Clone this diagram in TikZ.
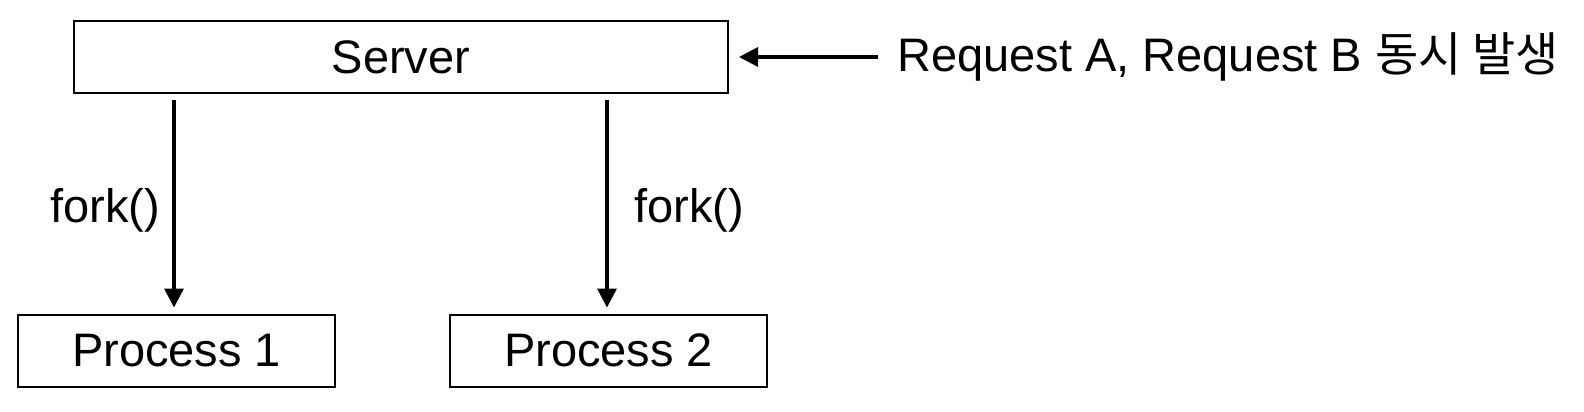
\documentclass[tikz,border=0pt]{standalone}
\usepackage{fontspec}
\setmainfont{Liberation Sans}
\newfontfamily\kofont{Noto Sans CJK KR}
\usetikzlibrary{arrows.meta}
\begin{document}
\begin{tikzpicture}[x=1pt,y=-1pt,
  box/.style={draw,line width=2pt,inner sep=0pt,font=\fontsize{47}{52}\selectfont},
  lbl/.style={inner sep=0pt,font=\fontsize{47}{52}\selectfont},
  conn/.style={line width=3.5pt,-{Triangle[length=19pt,width=19pt]}}]
\useasboundingbox (0,0) rectangle (1584,412);
\node[box,minimum width=654pt,minimum height=72pt] (server) at (401,57) {Server};
\node[box,minimum width=317pt,minimum height=72pt] (p1) at (176.5,350.5) {Process 1};
\node[box,minimum width=317pt,minimum height=72pt] (p2) at (608.5,350.5) {Process 2};
\node[lbl,anchor=west] (req) at (897,57) {Request A, Request B {\kofont 동시 발생}};
\node[lbl] (f1) at (105,210) {fork()};
\node[lbl] (f2) at (689,210) {fork()};
\coordinate (s1) at (174,100);
\coordinate (s2) at (607,100);
\draw[conn] (s1) -- ([yshift=6pt]s1 |- p1.north);
\draw[conn] (s2) -- ([yshift=6pt]s2 |- p2.north);
\draw[conn] ([xshift=-19pt]req.west) -- ([xshift=10pt]server.east);
\end{tikzpicture}
\end{document}
